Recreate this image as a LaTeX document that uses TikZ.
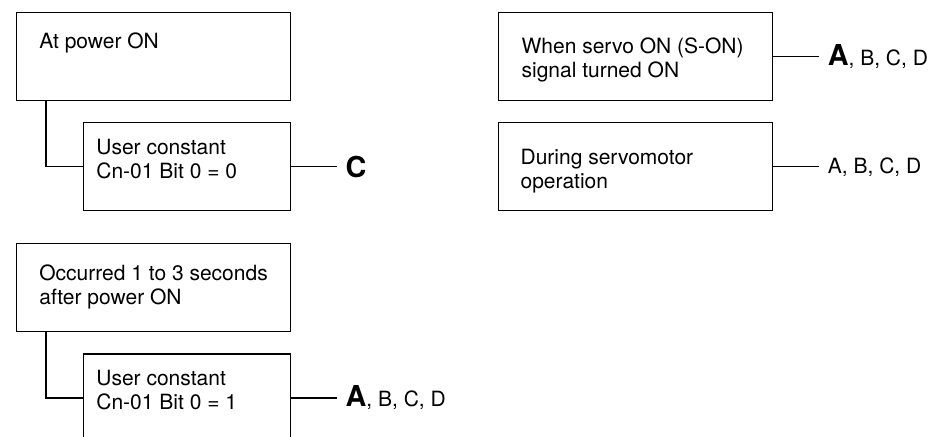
\documentclass[tikz,border=0pt]{standalone}
\usepackage{fontspec}
\setmainfont{TeX Gyre Heros}
\usetikzlibrary{positioning}

\begin{document}
\begin{tikzpicture}[
node distance=10.5pt,
bigbox/.style={
draw,
line width=0.6pt,
minimum width=137pt,
minimum height=44pt,
inner sep=0pt
},
subbox/.style={bigbox,minimum width=103.5pt},
txt/.style={
inner sep=0pt,
align=left,
anchor=base west,
font=\fontsize{10.5}{12}\selectfont
},
result/.style={
inner xsep=4pt,
inner ysep=0pt,
font=\fontsize{10.5}{12}\selectfont
},
wire/.style={line width=0.6pt}
]
\useasboundingbox (0,0) rectangle (466.5pt,-218pt);

% left column
\node[bigbox,anchor=north west] (power) at (8pt,-6pt) {};
\node[subbox,below=of power.south east,anchor=north east] (bit0) {};
\node[bigbox,below=71pt of power] (delay) {};
\node[subbox,below=of delay.south east,anchor=north east] (bit1) {};

% right column
\node[bigbox,right=103.5pt of power] (servoon) {};
\node[bigbox,below=of servoon] (running) {};

% box texts (base = last line)
\node[txt] (powertext) at ([shift={(11.5pt,-18pt)}]power.north west) {At power ON};
\node[txt] (bit0text) at ([shift={(6.5pt,-28pt)}]bit0.north west) {User constant\\Cn-01 Bit 0 = 0};
\node[txt] (delaytext) at ([shift={(11.5pt,-30.5pt)}]delay.north west) {Occurred 1 to 3 seconds\\after power ON};
\node[txt] (bit1text) at ([shift={(6.5pt,-28pt)}]bit1.north west) {User constant\\Cn-01 Bit 0 = 1};
\node[txt] (servoontext) at ([shift={(11.5pt,-32.5pt)}]servoon.north west) {When servo ON (S-ON)\\signal turned ON};
\node[txt] (runningtext) at ([shift={(11pt,-33pt)}]running.north west) {During servomotor\\operation};

% results
\node[result,right=23pt of bit0] (res0) {\Large\bfseries C};
\node[result,right=23pt of bit1] (res1) {{\Large\bfseries A}, B, C, D};
\node[result,right=23pt of servoon] (res2) {{\Large\bfseries A}, B, C, D};
\node[result,right=23pt of running] (res3) {A, B, C, D};

\draw[wire] ([xshift=15pt]power.south west) |- (bit0.west);
\draw[wire] ([xshift=15pt]delay.south west) |- (bit1.west);

\draw[wire] (bit0.east) -- (res0.west);
\draw[wire] (bit1.east) -- (res1.west);
\draw[wire] (servoon.east) -- (res2.west);
\draw[wire] (running.east) -- (res3.west);

\end{tikzpicture}
\end{document}
